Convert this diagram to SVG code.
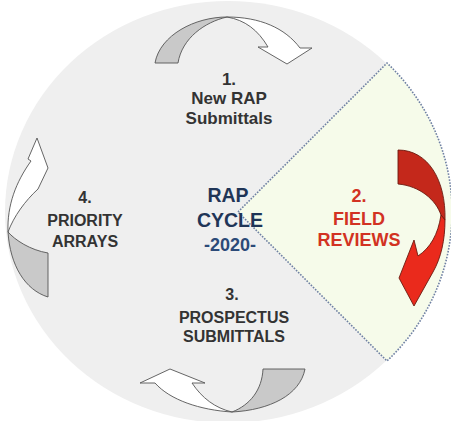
<svg xmlns="http://www.w3.org/2000/svg" width="451" height="421" viewBox="0 0 451 421">
<style>
.lbl{font-family:"Liberation Sans",Arial,sans-serif;font-weight:bold;text-anchor:middle}
.dk{fill:#333333}
.nv{fill:#1f3557}
.rd{fill:#d23222}
.g{fill:#c9c9c9;stroke:#555;stroke-width:0.9}
.w{fill:#ffffff;stroke:#555;stroke-width:0.9}
</style>
<rect width="451" height="421" fill="#ffffff"/>
<g id="cycle-bg">
<ellipse cx="228" cy="212" rx="223" ry="211" fill="#efefef"/>
</g>
<g id="field-wedge">
<path d="M238,212 L387,63 A223,211 0 0 1 387,361 Z" fill="#f6fbea" stroke="#6f80a3" stroke-width="1.6" stroke-dasharray="1.6 1.4"/>
</g>
<g id="connectors">
<g id="arrow-top">
<path class="g" d="M155,63 C160,35 195,17 227,17 C205,22 182,38 178,63 Z"/>
<path class="w" d="M227,17 C260,17 285,28 300,48 L312,48 L287,64 L258,47 L268,47 C258,30 245,20 227,17 Z"/>
</g>
<g id="arrow-right">
<path fill="#c4281b" stroke="#6b1a10" stroke-width="0.9" d="M398,150 C428,150 446,180 445,220 L441,215 C436,200 420,186 398,184 Z"/>
<path fill="#ea2a1c" stroke="#6b1a10" stroke-width="0.9" d="M445,220 C445,240 441,258 433,272 L414,306 L399,278 L414,240 L418,256 C430,248 438,235 441,215 Z"/>
</g>
<g id="arrow-bottom">
<path class="w" d="M232,412 C200,410 170,400 155,383 L140,383 L170,369 L205,383 L192,383 C202,398 215,408 232,412 Z"/>
<path class="g" d="M232,412 C270,410 300,395 305,369 L263,369 C262,390 250,405 232,412 Z"/>
</g>
<g id="arrow-left">
<path class="g" d="M8,232 C10,265 25,290 48,297 L48,253 C30,250 15,240 8,232 Z"/>
<path class="w" d="M8,232 C7,205 16,182 31,161 L28,159 L37,138 L48,168 L38,189 C25,201 14,216 8,232 Z"/>
</g>
</g>
<g id="node-1">
<text class="lbl dk" x="229" y="85" font-size="17">1.</text>
<text class="lbl dk" x="229" y="104" font-size="17">New RAP</text>
<text class="lbl dk" x="229" y="124" font-size="17">Submittals</text>
</g>
<g id="node-center">
<text class="lbl nv" x="228" y="202" font-size="19.5">RAP</text>
<text class="lbl nv" x="230" y="227" font-size="19.5">CYCLE</text>
<text class="lbl" x="230" y="251" font-size="18" fill="#2c4a78">-2020-</text>
</g>
<g id="node-2">
<text class="lbl rd" x="359" y="202" font-size="18">2.</text>
<text class="lbl rd" x="359" y="225" font-size="18">FIELD</text>
<text class="lbl rd" x="359" y="246" font-size="18">REVIEWS</text>
</g>
<g id="node-3">
<text class="lbl dk" x="232" y="300" font-size="16">3.</text>
<text class="lbl dk" x="234" y="323" font-size="16">PROSPECTUS</text>
<text class="lbl dk" x="234" y="342" font-size="16">SUBMITTALS</text>
</g>
<g id="node-4">
<text class="lbl dk" x="85" y="203" font-size="16">4.</text>
<text class="lbl dk" x="85" y="226" font-size="16">PRIORITY</text>
<text class="lbl dk" x="85" y="247" font-size="16">ARRAYS</text>
</g>
</svg>
